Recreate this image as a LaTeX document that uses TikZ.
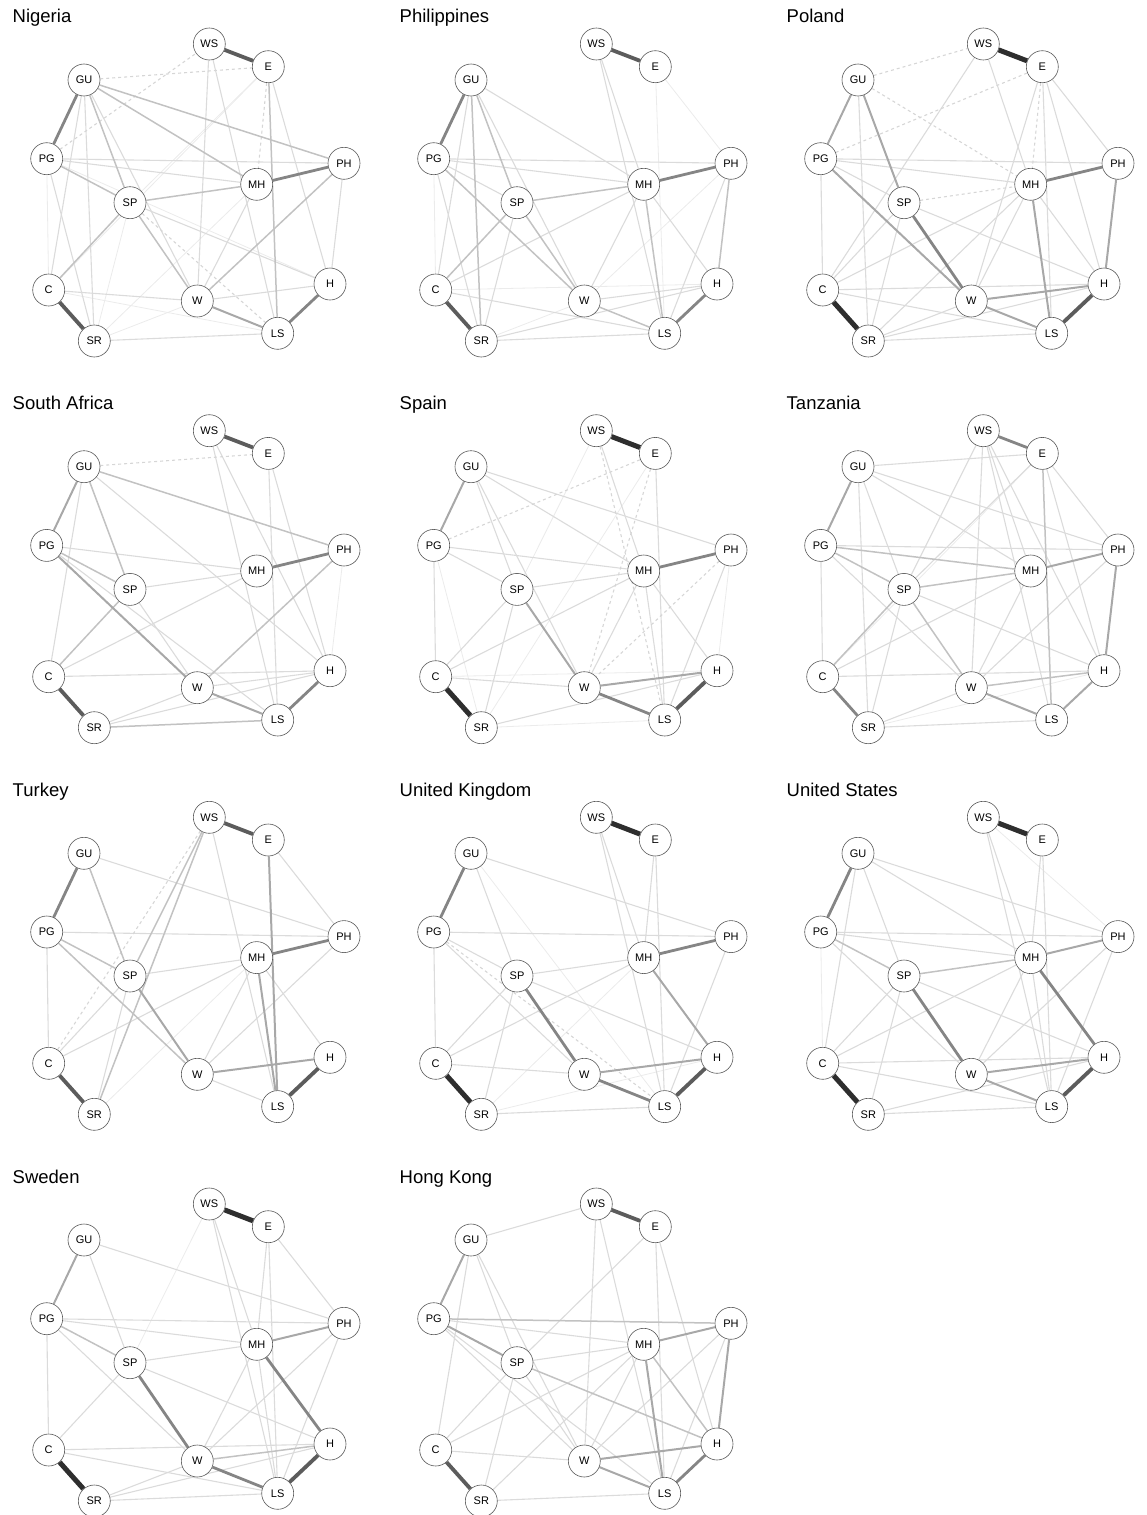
\documentclass[tikz,border=0pt]{standalone}
\usepackage{fontspec}
\setmainfont{Liberation Sans}
\usepackage{tikz}
\usetikzlibrary{backgrounds}
\tikzset{
  netnode/.style={circle, draw=black!65, fill=white, minimum size=32pt,
    inner sep=0pt, font=\fontsize{11}{11}\selectfont, line width=0.6pt},
  ctitle/.style={anchor=base west, inner sep=0pt, font=\fontsize{18.5}{20}\selectfont},
  efaint/.style={draw=black!8, line width=0.8pt},
  elight/.style={draw=black!14, line width=1.1pt},
  emid/.style={draw=black!24, line width=1.5pt},
  efirm/.style={draw=black!34, line width=2pt},
  estrong/.style={draw=black!48, line width=2.8pt},
  eheavy/.style={draw=black!64, line width=3.8pt},
  etop/.style={draw=black!82, line width=5pt},
  eneg/.style={draw=black!16, dashed, line width=1.1pt}
}
\newcommand\netnodes[1]{%
  \node[ctitle] (title) at (12.5,23) {#1};
  \node[netnode] (WS) at (209.3,44) {WS};
  \node[netnode] (E)  at (268.3,66.7) {E};
  \node[netnode] (GU) at (84,80) {GU};
  \node[netnode] (PG) at (46.7,158.7) {PG};
  \node[netnode] (PH) at (344,163.3) {PH};
  \node[netnode] (MH) at (256.7,184.3) {MH};
  \node[netnode] (SP) at (130,202.7) {SP};
  \node[netnode] (C)  at (48.7,290) {C};
  \node[netnode] (H)  at (330,284) {H};
  \node[netnode] (W)  at (197.3,301) {W};
  \node[netnode] (LS) at (277.7,333.3) {LS};
  \node[netnode] (SR) at (94.3,341) {SR};
}
\newcommand\edges[2]{\foreach \a/\b in {#2} \draw[#1] (\a) -- (\b);}

\begin{document}
\begin{tikzpicture}[x=1pt, y=-1pt]
  \useasboundingbox (0,0) rectangle (1146,1515);

  \begin{scope}[name prefix=ng-]
    \netnodes{Nigeria}
    \begin{scope}[on background layer]
      \edges{efaint}{PG/C, SP/SR, C/E, SR/MH, C/LS, SR/W, PG/H, SP/E}
      \edges{elight}{PG/PH, PG/MH, GU/SR, GU/C, PG/SR, SP/H, MH/W, PH/H, WS/LS, E/H, SR/LS, W/H, C/W, GU/W, WS/W}
      \edges{eneg}{GU/E, PG/WS, E/MH, SP/LS}
      \edges{emid}{GU/SP, GU/MH, GU/PH, SP/MH, SP/C, SP/W, PH/W, PG/SP, E/LS}
      \edges{efirm}{W/LS}
      \edges{estrong}{GU/PG, MH/PH, H/LS}
      \edges{eheavy}{WS/E, C/SR}
    \end{scope}
  \end{scope}

  \begin{scope}[shift={(387,0)}, name prefix=ph-]
    \netnodes{Philippines}
    \begin{scope}[on background layer]
      \edges{efaint}{PG/C, PH/E, E/LS, C/H, SR/W, PH/W}
      \edges{elight}{GU/MH, PG/PH, PG/MH, PG/SP, PG/SR, GU/C, SP/SR, MH/W, MH/H, MH/C, PH/LS, WS/MH, WS/LS, W/H, C/LS, SR/LS, SR/H, GU/W}
      \edges{emid}{GU/SP, SP/C, SP/MH, SP/W, PG/W, MH/LS, PH/H, W/LS, GU/SR}
      \edges{estrong}{GU/PG, MH/PH, H/LS}
      \edges{eheavy}{WS/E, C/SR}
    \end{scope}
  \end{scope}

  \begin{scope}[shift={(774,0)}, name prefix=pl-]
    \netnodes{Poland}
    \begin{scope}[on background layer]
      \edges{elight}{GU/SR, PG/PH, PG/MH, PG/SP, PG/C, SP/C, SP/SR, SP/H, WS/C, WS/MH, E/W, E/LS, E/H, E/PH, MH/W, MH/C, MH/SR, MH/H, C/H, C/LS, SR/LS, SR/H, SR/W}
      \edges{eneg}{GU/MH, GU/WS, PG/E, SP/MH, E/MH}
      \edges{efirm}{GU/PG, GU/SP, PG/W, MH/LS, PH/H, W/H, W/LS}
      \edges{estrong}{MH/PH, SP/W}
      \edges{eheavy}{H/LS}
      \edges{etop}{WS/E, C/SR}
    \end{scope}
  \end{scope}

  \begin{scope}[shift={(0,386.7)}, name prefix=za-]
    \netnodes{South Africa}
    \begin{scope}[on background layer]
      \edges{efaint}{PH/H}
      \edges{elight}{GU/C, GU/H, PG/MH, SP/MH, MH/C, WS/LS, WS/H, E/LS, E/H, W/H, C/H, SR/H, SR/W, PG/LS, SP/W}
      \edges{eneg}{GU/E}
      \edges{emid}{GU/SP, PG/SP, SP/C, GU/PH, SR/LS, PH/W}
      \edges{efirm}{GU/PG, PG/W, W/LS}
      \edges{estrong}{H/LS, MH/PH}
      \edges{eheavy}{WS/E, C/SR}
    \end{scope}
  \end{scope}

  \begin{scope}[shift={(387,386.7)}, name prefix=es-]
    \netnodes{Spain}
    \begin{scope}[on background layer]
      \edges{efaint}{WS/SP, E/SR, PH/H, C/H, SR/LS, PG/SR}
      \edges{elight}{GU/SP, GU/PH, GU/MH, PG/MH, PG/SP, PG/C, SP/MH, SP/C, SP/SR, WS/MH, E/LS, MH/W, MH/C, MH/H, MH/LS, PH/LS, C/W, SR/H, GU/W}
      \edges{eneg}{PG/E, WS/LS, E/W, PH/W}
      \edges{efirm}{GU/PG, W/H, SP/W}
      \edges{estrong}{MH/PH, W/LS}
      \edges{eheavy}{H/LS}
      \edges{etop}{WS/E, C/SR}
    \end{scope}
  \end{scope}

  \begin{scope}[shift={(774,386.7)}, name prefix=tz-]
    \netnodes{Tanzania}
    \begin{scope}[on background layer]
      \edges{efaint}{E/C, SR/H}
      \edges{elight}{GU/E, GU/PH, GU/MH, GU/SP, GU/SR, PG/PH, PG/W, PG/C, SP/E, SP/WS, SP/SR, SP/H, WS/MH, WS/LS, WS/H, WS/W, E/H, E/PH, MH/W, MH/C, PH/W, C/H, SR/LS, SR/W}
      \edges{emid}{PG/SP, SP/W, SP/C, W/H, SP/MH, PG/MH, E/LS}
      \edges{efirm}{H/LS, MH/PH, GU/PG, PH/H, W/LS}
      \edges{estrong}{WS/E, C/SR}
    \end{scope}
  \end{scope}

  \begin{scope}[shift={(0,773.3)}, name prefix=tr-]
    \netnodes{Turkey}
    \begin{scope}[on background layer]
      \edges{efaint}{SR/MH}
      \edges{elight}{GU/PH, PG/PH, PG/C, SP/MH, SP/SR, SP/C, WS/LS, E/PH, MH/W, MH/C, MH/H, PH/W, W/LS}
      \edges{eneg}{WS/C}
      \edges{emid}{GU/SP, PG/SP, PG/W, WS/SR, WS/SP}
      \edges{efirm}{SP/W, W/H, MH/LS, E/LS}
      \edges{estrong}{MH/PH, GU/PG}
      \edges{eheavy}{WS/E, C/SR, H/LS}
    \end{scope}
  \end{scope}

  \begin{scope}[shift={(387,773.3)}, name prefix=uk-]
    \netnodes{United Kingdom}
    \begin{scope}[on background layer]
      \edges{efaint}{GU/LS, SR/MH, SR/H}
      \edges{elight}{GU/PH, GU/SP, PG/PH, PG/SP, PG/W, PG/C, SP/MH, SP/H, SP/C, SP/SR, WS/MH, WS/LS, E/MH, E/LS, MH/C, PH/LS, C/W, SR/LS}
      \edges{eneg}{PG/LS}
      \edges{efirm}{MH/H, W/H}
      \edges{estrong}{MH/PH, GU/PG, SP/W, W/LS}
      \edges{eheavy}{H/LS}
      \edges{etop}{WS/E, C/SR}
    \end{scope}
  \end{scope}

  \begin{scope}[shift={(774,773.3)}, name prefix=us-]
    \netnodes{United States}
    \begin{scope}[on background layer]
      \edges{efaint}{PG/C, WS/PH}
      \edges{elight}{GU/PH, GU/SP, GU/MH, GU/C, PG/PH, PG/MH, PG/W, SP/C, SP/SR, SP/H, WS/MH, WS/LS, E/MH, E/LS, MH/W, MH/C, MH/LS, PH/LS, PH/W, C/H, C/LS, SR/LS, SR/H}
      \edges{emid}{PG/SP, SP/MH}
      \edges{efirm}{MH/PH, W/H, W/LS}
      \edges{estrong}{GU/PG, SP/W, MH/H}
      \edges{eheavy}{H/LS}
      \edges{etop}{WS/E, C/SR}
    \end{scope}
  \end{scope}

  \begin{scope}[shift={(0,1160)}, name prefix=se-]
    \netnodes{Sweden}
    \begin{scope}[on background layer]
      \edges{efaint}{WS/SP}
      \edges{elight}{GU/PH, GU/SP, PG/PH, PG/MH, PG/W, PG/C, SP/MH, SP/C, SP/H, WS/MH, WS/LS, E/MH, E/LS, E/PH, MH/LS, MH/W, PH/LS, PH/W, C/H, C/LS, SR/W, SR/LS, SR/H}
      \edges{emid}{PG/SP, W/H}
      \edges{efirm}{GU/PG, MH/PH}
      \edges{estrong}{SP/W, MH/H, W/LS}
      \edges{eheavy}{H/LS}
      \edges{etop}{WS/E, C/SR}
    \end{scope}
  \end{scope}

  \begin{scope}[shift={(387,1160)}, name prefix=hk-]
    \netnodes{Hong Kong}
    \begin{scope}[on background layer]
      \edges{elight}{GU/WS, GU/SP, GU/W, GU/C, PG/MH, PG/W, PG/LS, SP/MH, SP/W, SP/C, SP/SR, SP/E, WS/W, WS/LS, E/LS, E/H, MH/C, MH/SR, MH/W, PH/LS, PH/W, C/W, SR/LS}
      \edges{emid}{PG/PH, SP/H, MH/H}
      \edges{efirm}{GU/PG, MH/PH, PG/SP, MH/LS, W/H, W/LS, PH/H}
      \edges{estrong}{H/LS}
      \edges{eheavy}{WS/E, C/SR}
    \end{scope}
  \end{scope}
\end{tikzpicture}
\end{document}
